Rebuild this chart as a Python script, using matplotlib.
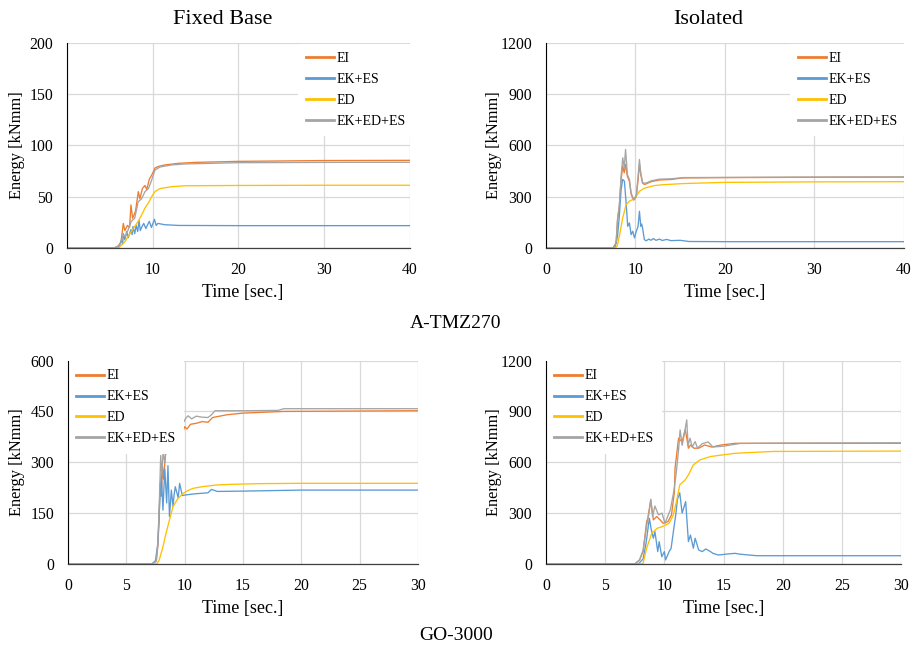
import matplotlib
matplotlib.use("Agg")
import matplotlib.pyplot as plt

plt.rcParams["font.family"] = ["Liberation Serif", "DejaVu Serif"]

# Series labels and colours
labels = ["EI", "EK+ES", "ED", "EK+ED+ES"]
colors = ["#ED7D31", "#5B9BD5", "#FFC000", "#A5A5A5"]

# A-TMZ270, fixed base
t1_ei = [0, 5.5, 6.0, 6.3, 6.57, 6.75, 7.05, 7.3, 7.46, 7.66, 8.0, 8.32, 8.5, 8.8, 9.1, 9.3, 9.6, 9.87, 10.05, 10.26, 10.65, 11.4, 13.0, 15, 20, 30, 40]
e1_ei = [0, 0, 2, 6, 24, 17, 22, 20, 42, 29, 36, 55, 48, 58, 61, 57, 67, 71, 74, 78, 79.5, 81, 82.6, 83.5, 84.5, 85.3, 85.5]
t1_ek = [0, 6.0, 6.37, 6.5, 6.57, 6.75, 6.96, 7.15, 7.46, 7.6, 7.7, 7.9, 8.07, 8.25, 8.4, 8.55, 8.7, 8.95, 9.2, 9.6, 9.85, 10.2, 10.4, 10.6, 11.4, 13, 20, 40]
e1_ek = [0, 0, 8, 4, 14, 8, 16, 10, 18, 13, 21, 14, 22, 16, 27, 17, 20, 24, 19, 26, 20, 28, 22, 24, 22.7, 22, 21.8, 21.8]
t1_ed = [0, 6.0, 6.37, 6.75, 7.1, 7.5, 7.9, 8.3, 8.7, 9.1, 9.5, 9.87, 10.26, 10.85, 12.2, 13.8, 20, 30, 40]
e1_ed = [0, 0, 3, 6, 11, 16, 21, 26, 32, 39, 44, 50, 55, 58, 59.8, 60.7, 61, 61.2, 61.2]
t1_sum = [0, 5.5, 6.0, 6.3, 6.57, 6.8, 7.1, 7.5, 7.9, 8.3, 8.7, 9.1, 9.5, 9.87, 10.26, 10.85, 12.2, 13.8, 20, 30, 40]
e1_sum = [0, 0, 2, 5, 13, 11, 17, 26, 29, 45, 48, 55, 58, 66, 76, 79, 81, 82, 83.2, 83.5, 83.6]

# A-TMZ270, isolated
t2_ei = [0, 7.5, 7.84, 8.0, 8.2, 8.4, 8.58, 8.75, 8.9, 9.1, 9.33, 9.52, 9.8, 10.1, 10.3, 10.45, 10.6, 10.8, 11.0, 11.2, 11.75, 12.7, 14.0, 15.3, 20, 30, 40]
e2_ei = [0, 0, 29, 166, 244, 400, 480, 440, 489, 420, 390, 315, 280, 300, 400, 489, 430, 380, 372, 375, 388, 398, 401, 410, 412, 414, 415]
t2_ek = [0, 7.7, 8.0, 8.2, 8.4, 8.58, 8.77, 8.96, 9.14, 9.33, 9.52, 9.7, 9.9, 10.1, 10.3, 10.45, 10.6, 10.7, 10.8, 11.0, 11.2, 11.5, 11.75, 12.0, 12.3, 12.7, 13.0, 13.5, 14.0, 15.0, 16.0, 20, 30, 40]
e2_ek = [0, 0, 68, 186, 342, 401, 391, 264, 127, 147, 78, 98, 59, 98, 127, 215, 127, 140, 118, 49, 42, 52, 45, 55, 45, 52, 44, 50, 43, 45, 38, 37, 37, 37]
t2_ed = [0, 7.7, 7.95, 8.2, 8.58, 8.96, 9.33, 9.7, 10.1, 10.45, 11.0, 12.1, 13.0, 15.3, 20, 30, 40]
e2_ed = [0, 0, 10, 68, 176, 254, 274, 284, 303, 332, 350, 365, 370, 377, 384, 387, 388]
t2_sum = [0, 7.5, 7.84, 8.0, 8.2, 8.4, 8.58, 8.75, 8.9, 9.1, 9.33, 9.52, 9.8, 10.1, 10.3, 10.45, 10.6, 10.8, 11.0, 11.2, 11.75, 12.7, 14.0, 15.3, 20, 30, 40]
e2_sum = [0, 0, 29, 166, 250, 420, 528, 470, 577, 430, 401, 323, 284, 307, 420, 518, 440, 382, 380, 380, 393, 403, 405, 412, 413, 415, 416]

# GO-3000, fixed base
t3_ei = [0, 7.2, 7.57, 7.7, 7.8, 7.9, 8.0, 8.1, 8.2, 8.35, 8.5, 8.7, 9.0, 9.5, 9.86, 10.0, 10.2, 10.5, 11.0, 11.5, 12.0, 12.4, 13.6, 15, 18.5, 30]
e3_ei = [0, 0, 10, 51, 120, 238, 200, 290, 250, 322, 360, 380, 390, 400, 390, 405, 398, 412, 415, 420, 418, 432, 440, 445, 450, 452]
t3_ek = [0, 7.2, 7.5, 7.7, 7.86, 8.0, 8.14, 8.3, 8.46, 8.57, 8.7, 8.86, 9.0, 9.1, 9.2, 9.45, 9.57, 9.8, 10.15, 10.86, 12.0, 12.3, 12.8, 15, 20, 30]
e3_ek = [0, 0, 10, 60, 180, 268, 159, 280, 180, 290, 140, 218, 170, 205, 228, 195, 238, 202, 204, 207, 210, 220, 214, 215, 218, 218]
t3_ed = [0, 7.6, 7.8, 8.1, 8.4, 8.7, 9.0, 9.4, 9.86, 10.3, 10.7, 11.5, 12.7, 14, 16.4, 20, 30]
e3_ed = [0, 0, 10, 45, 90, 130, 169, 192, 208, 217, 223, 228, 233, 235, 237, 238, 238]
t3_sum = [0, 7.2, 7.57, 7.7, 7.8, 7.95, 8.05, 8.15, 8.3, 8.5, 8.7, 9.0, 9.5, 9.86, 10.1, 10.3, 10.6, 11.0, 11.5, 12.0, 12.3, 12.6, 15, 18.0, 18.5, 30]
e3_sum = [0, 0, 8, 60, 150, 320, 260, 330, 300, 360, 390, 400, 415, 415, 430, 437, 428, 436, 433, 432, 440, 452, 452, 453, 458, 458]

# GO-3000, isolated
t4_ei = [0, 7.5, 7.9, 8.2, 8.5, 8.6, 8.85, 9.07, 9.35, 9.64, 9.9, 10.3, 10.6, 10.85, 10.9, 11.2, 11.5, 11.75, 11.85, 12.03, 12.2, 12.5, 12.9, 13.4, 14.0, 14.8, 16.0, 20, 30]
e4_ei = [0, 0, 24, 73, 250, 270, 378, 260, 280, 260, 240, 250, 289, 427, 565, 742, 720, 791, 760, 683, 702, 683, 683, 702, 690, 702, 712, 712, 712]
t4_ek = [0, 7.8, 8.2, 8.45, 8.6, 8.73, 8.9, 9.07, 9.2, 9.44, 9.56, 9.78, 10.0, 10.1, 10.4, 10.57, 10.76, 10.96, 11.1, 11.3, 11.5, 11.8, 12.03, 12.2, 12.45, 12.6, 12.9, 13.2, 13.5, 13.9, 14.1, 14.56, 15.3, 15.97, 16.4, 17.8, 20, 30]
e4_ek = [0, 0, 30, 122, 200, 270, 200, 152, 191, 73, 132, 43, 73, 24, 73, 93, 191, 289, 380, 420, 300, 368, 132, 171, 93, 152, 83, 73, 89, 73, 63, 53, 59, 63, 58, 49, 49, 49]
t4_ed = [0, 8.0, 8.2, 8.5, 8.93, 9.4, 9.8, 10.4, 10.76, 11.05, 11.3, 11.75, 12.03, 12.45, 13.0, 13.9, 15.97, 19.2, 30]
e4_ed = [0, 0, 4, 93, 181, 211, 220, 240, 289, 378, 467, 496, 525, 585, 614, 634, 653, 664, 666]
t4_sum = [0, 7.5, 7.9, 8.2, 8.56, 8.7, 8.85, 9.0, 9.2, 9.5, 9.8, 10.05, 10.5, 10.8, 11.0, 11.2, 11.33, 11.5, 11.6, 11.89, 12.0, 12.17, 12.35, 12.6, 12.8, 13.2, 13.7, 14.1, 15, 16.4, 20, 30]
e4_sum = [0, 0, 24, 80, 250, 300, 382, 280, 342, 290, 300, 240, 319, 430, 536, 673, 791, 700, 733, 850, 700, 742, 690, 722, 683, 710, 720, 690, 695, 711, 713, 715]

panels = [
    dict(pos=[0.0731, 0.6173, 0.3745, 0.3164], xmax=40, xstep=10, ymax=200, ystep=50,
         series=[(t1_ei, e1_ei), (t1_ek, e1_ek), (t1_ed, e1_ed), (t1_sum, e1_sum)],
         loc="upper right", anchor=(1.012, 0.997), ylab_x=-0.123, xlab_x=0.513),
    dict(pos=[0.5961, 0.6173, 0.3903, 0.3164], xmax=40, xstep=10, ymax=1200, ystep=300,
         series=[(t2_ei, e2_ei), (t2_ek, e2_ek), (t2_ed, e2_ed), (t2_sum, e2_sum)],
         loc="upper right", anchor=(1.008, 0.997), ylab_x=-0.122, xlab_x=0.5),
    dict(pos=[0.0742, 0.1296, 0.3821, 0.3140], xmax=30, xstep=5, ymax=600, ystep=150,
         series=[(t3_ei, e3_ei), (t3_ek, e3_ek), (t3_ed, e3_ed), (t3_sum, e3_sum)],
         loc="upper left", anchor=(0.0, 0.997), ylab_x=-0.122, xlab_x=0.5),
    dict(pos=[0.5961, 0.1296, 0.3876, 0.3140], xmax=30, xstep=5, ymax=1200, ystep=300,
         series=[(t4_ei, e4_ei), (t4_ek, e4_ek), (t4_ed, e4_ed), (t4_sum, e4_sum)],
         loc="upper left", anchor=(0.0, 0.997), ylab_x=-0.125, xlab_x=0.5),
]

fig = plt.figure(figsize=(9.16, 6.48), dpi=100)

for p in panels:
    ax = fig.add_axes(p["pos"])
    for (t, e), lab, col in zip(p["series"], labels, colors):
        ax.plot(t, e, color=col, lw=0.95, label=lab)
    ax.set_xlim(0, p["xmax"])
    ax.set_ylim(0, p["ymax"])
    ax.set_xticks(range(0, p["xmax"] + 1, p["xstep"]))
    ax.set_yticks(range(0, p["ymax"] + 1, p["ystep"]))
    ax.grid(True, color="#D9D9D9", lw=0.9)
    ax.set_axisbelow(True)
    for side in ["top", "right"]:
        ax.spines[side].set_visible(False)
    ax.spines["left"].set_color("black")
    ax.spines["bottom"].set_color("#404040")
    ax.spines["left"].set_linewidth(0.8)
    ax.spines["bottom"].set_linewidth(0.9)
    ax.tick_params(length=0, labelsize=11.3)
    ax.tick_params(axis="x", pad=10)
    ax.tick_params(axis="y", pad=10)
    ax.set_xlabel("Time [sec.]", fontsize=13)
    ax.set_ylabel("Energy [kNmm]", fontsize=11.8)
    ax.xaxis.set_label_coords(p["xlab_x"], -0.178)
    ax.yaxis.set_label_coords(p["ylab_x"], 0.5)
    leg = ax.legend(loc=p["loc"], bbox_to_anchor=p["anchor"], borderaxespad=0,
                    fontsize=10, frameon=True, fancybox=False, framealpha=1,
                    handlelength=2, handletextpad=0.2, borderpad=0.6,
                    labelspacing=0.57)
    leg.get_frame().set_facecolor("white")
    leg.get_frame().set_edgecolor("none")
    # keep the legend box over the curves but under the axis lines
    leg.set_zorder(2.4)
    for h in leg.get_lines():
        h.set_linewidth(2)

fig.text(222.8 / 916, 1 - 19 / 648, "Fixed Base", fontsize=16, ha="center", va="center")
fig.text(708 / 916, 1 - 19 / 648, "Isolated", fontsize=16, ha="center", va="center")
fig.text(456 / 916, 1 - 323 / 648, "A-TMZ270", fontsize=14, ha="center", va="center")
fig.text(456 / 916, 1 - 635 / 648, "GO-3000", fontsize=14, ha="center", va="center")

fig.savefig("out.png", dpi=100, facecolor="white")
